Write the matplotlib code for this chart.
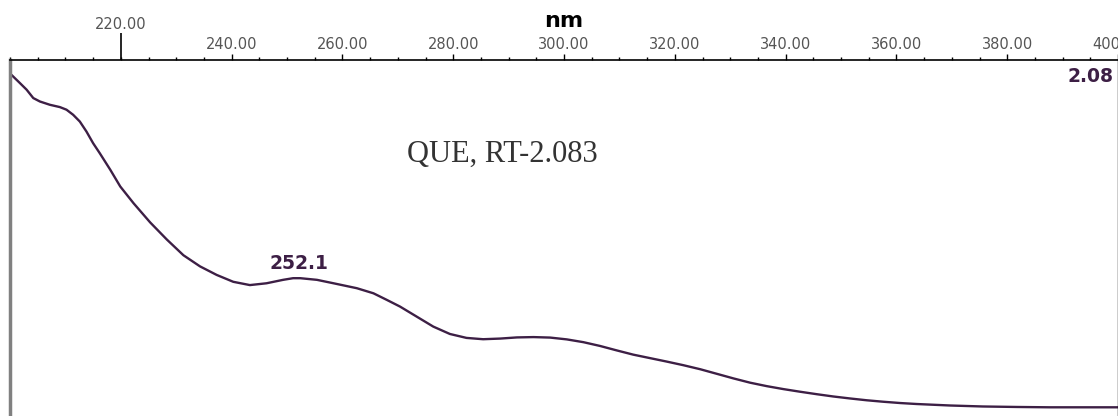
import matplotlib.pyplot as plt
from matplotlib.ticker import MultipleLocator, FormatStrFormatter

# UV spectrum of QUE
wavelength = [200.4, 201.8, 203.0, 204.2, 205.4, 207.2, 209.0, 210.2, 211.4, 212.6,
              213.8, 215.0, 216.2, 218.1, 219.9, 222.3, 225.3, 228.3, 231.3, 234.3,
              237.3, 240.3, 243.3, 246.3, 249.3, 251.1, 252.4, 255.4, 258.4, 262.6,
              265.6, 268.0, 270.4, 273.4, 276.4, 279.4, 282.4, 285.4, 288.5, 291.5,
              294.5, 297.5, 300.5, 303.5, 306.5, 309.5, 312.5, 315.5, 318.5, 321.5,
              324.6, 327.6, 330.6, 333.6, 336.6, 339.6, 342.6, 345.6, 348.6, 351.6,
              354.6, 357.6, 360.7, 363.7, 369.7, 375.6, 381.8, 387.7, 399.8]
absorbance = [2.075, 2.029, 1.989, 1.938, 1.917, 1.897, 1.883, 1.867, 1.836, 1.795,
              1.734, 1.663, 1.602, 1.501, 1.399, 1.297, 1.180, 1.076, 0.980, 0.912,
              0.860, 0.818, 0.798, 0.809, 0.830, 0.840, 0.840, 0.830, 0.809, 0.779,
              0.748, 0.708, 0.667, 0.606, 0.545, 0.500, 0.476, 0.468, 0.472, 0.479,
              0.481, 0.478, 0.467, 0.450, 0.427, 0.400, 0.374, 0.353, 0.332, 0.310,
              0.285, 0.257, 0.229, 0.203, 0.182, 0.164, 0.148, 0.133, 0.119, 0.107,
              0.096, 0.087, 0.079, 0.073, 0.064, 0.058, 0.055, 0.053, 0.053]
peak_nm = 252.1
peak_abs = 0.840
max_label = "2.08"
title = "QUE, RT-2.083"

purple = "#3d1f45"

fig = plt.figure(figsize=(11.18, 4.16), dpi=100)
ax = fig.add_axes([10 / 1118, 0, 1108 / 1118, 356 / 416])
ax.plot(wavelength, absorbance, color=purple, lw=1.7)
ax.set_xlim(200, 400)
ax.set_ylim(0, 2.17)

# top axis only
ax.xaxis.tick_top()
ax.yaxis.set_visible(False)
ax.spines["bottom"].set_visible(False)
ax.spines["top"].set_linewidth(1.2)
ax.spines["left"].set_color("#808080")
ax.spines["left"].set_linewidth(2.5)
ax.spines["right"].set_linewidth(1.0)
ax.xaxis.set_minor_locator(MultipleLocator(5))
ax.set_xticks([t for t in range(240, 401, 20)])
ax.xaxis.set_major_formatter(FormatStrFormatter("%.2f"))
ax.tick_params(axis="x", which="major", direction="out", length=4.5, width=1,
               labelsize=10.5, labelcolor="#555555", pad=1)
ax.tick_params(axis="x", which="minor", direction="out", length=2.2, width=1)

# 220 label sits higher with a long tick
sec = ax.secondary_xaxis("top")
sec.set_xticks([220])
sec.xaxis.set_major_formatter(FormatStrFormatter("%.2f"))
sec.tick_params(axis="x", length=19.5, width=1.2, labelsize=10.5,
                labelcolor="#555555", pad=1)
sec.spines["top"].set_visible(False)

ax.text(0.5, 1.11, "nm", transform=ax.transAxes, ha="center", va="center",
        fontsize=16, fontweight="bold", color="black")

ax.text(0.9955, 0.954, max_label, transform=ax.transAxes, ha="right", va="center",
        fontsize=13.5, fontweight="bold", color=purple)
ax.annotate(f"{peak_nm:.1f}", xy=(peak_nm, peak_abs), xytext=(0, 4),
            textcoords="offset points", ha="center", va="bottom",
            fontsize=13.5, fontweight="bold", color=purple)

ax.text(0.4445, 0.736, title, transform=ax.transAxes, ha="center", va="center",
        fontsize=22, family="Liberation Serif", color="#333333")

fig.savefig("out.png", dpi=100)
